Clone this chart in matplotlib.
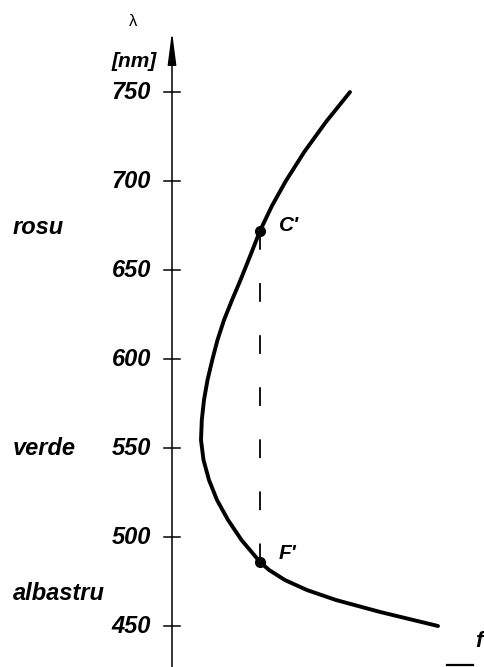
import matplotlib.pyplot as plt

plt.rcParams['font.family'] = ['Liberation Sans', 'DejaVu Sans']
plt.rcParams['lines.scale_dashes'] = False

# focal length f (arbitrary units, axis at 0) vs wavelength lambda [nm]
wavelength = [750.0, 733.1, 716.3, 700.0, 686.0, 672.0, 658.4, 644.4, 633.1,
              621.9, 610.7, 600.0, 588.2, 577.0, 565.7, 554.5, 543.3, 532.0,
              520.8, 509.6, 498.3, 486.0, 481.5, 475.8, 470.2, 464.6, 457.9,
              450.0]
focal = [178, 153.8, 132.2, 113.8, 99.9, 88, 78.5, 68.5, 60,
         52, 45.5, 40.5, 35.5, 32, 29.8, 29, 31.5, 37,
         45, 56, 69.5, 88, 97, 113, 135, 164, 208,
         266]

# marked Fraunhofer lines
point_names = ["C'", "F'"]
point_wl = [672.0, 486.0]
point_f = [88, 88]

tick_values = [450, 500, 550, 600, 650, 700, 750]
colour_names = ['rosu', 'verde', 'albastru']
colour_wl = [674, 550, 468]

fig = plt.figure(figsize=(4.84, 6.67), dpi=100)
ax = fig.add_axes([0, 0, 1, 1])
ax.set_xlim(-172, 312)
ax.set_ylim(426.97, 801.7)
ax.axis('off')

# vertical axis with arrow head
ax.annotate('', xy=(0, 784), xytext=(0, 426.97),
            arrowprops=dict(arrowstyle='-|>,head_length=1.0,head_width=0.13',
                            mutation_scale=20, lw=1.1, color='black',
                            shrinkA=0, shrinkB=0))
for v in tick_values:
    ax.plot([-8, 8], [v, v], color='black', lw=1.1)
    ax.text(-21, v, str(v), ha='right', va='center', fontsize=17,
            fontweight='bold', fontstyle='italic')

ax.text(-15, 767, '[nm]', ha='right', va='center', fontsize=15,
        fontweight='bold', fontstyle='italic')
ax.text(-39, 789.5, 'λ', ha='center', va='center', fontsize=12)

for name, wl in zip(colour_names, colour_wl):
    ax.text(-159, wl, name, ha='left', va='center', fontsize=17,
            fontweight='bold', fontstyle='italic')

# dispersion curve
ax.plot(focal, wavelength, color='black', lw=2.8,
        solid_capstyle='round', solid_joinstyle='round')

# dashed line joining C' and F'
ax.plot(point_f, point_wl, color='black', lw=1.3, dashes=(13.5, 24))
ax.plot(point_f, point_wl, 'o', color='black', markersize=7)
ax.text(point_f[0] + 19, point_wl[0] + 3, point_names[0], ha='left', va='center',
        fontsize=15, fontweight='bold', fontstyle='italic')
ax.text(point_f[1] + 19, point_wl[1] + 5, point_names[1], ha='left', va='center',
        fontsize=15, fontweight='bold', fontstyle='italic')

# horizontal axis end and label
ax.plot([275, 301], [428.1, 428.1], color='black', lw=1.6)
ax.text(307, 441.5, 'f', ha='center', va='center', fontsize=16,
        fontweight='bold', fontstyle='italic')

fig.savefig('out.png', dpi=100)
